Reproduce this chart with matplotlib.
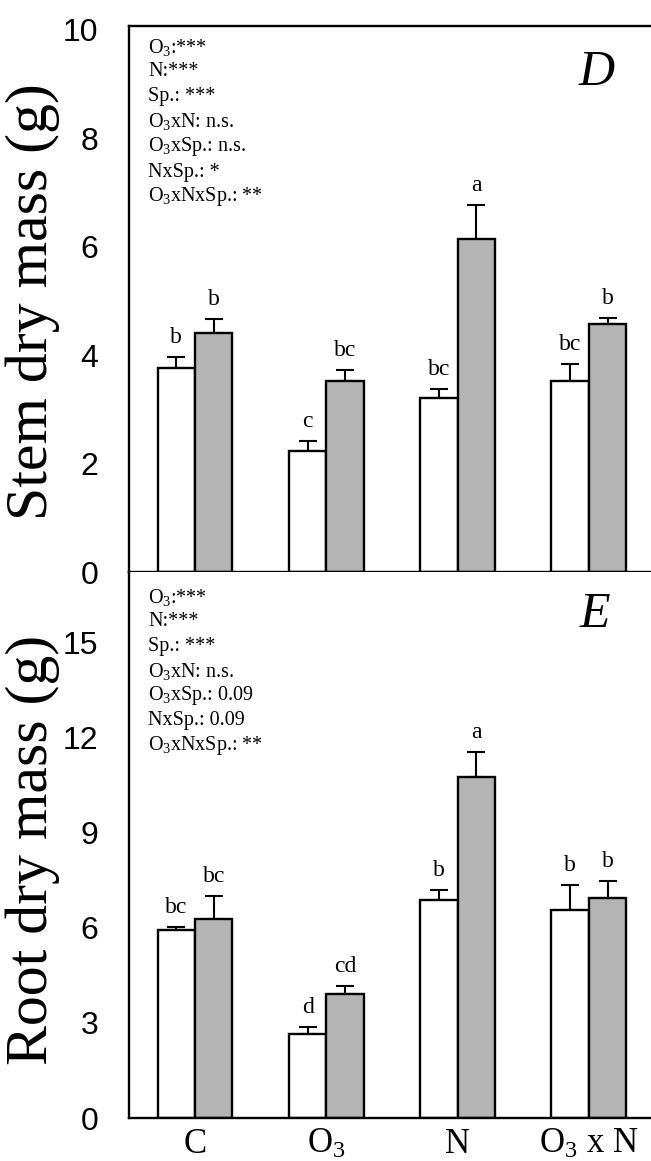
import matplotlib
matplotlib.use("Agg")
import matplotlib.pyplot as plt
import numpy as np

# ---- data ----
groups = ["C", "O$_3$", "N", "O$_3$ x N"]
stem_white = [3.76, 2.23, 3.21, 3.52]
stem_white_err = [0.20, 0.19, 0.17, 0.32]
stem_gray = [4.41, 3.52, 6.14, 4.58]
stem_gray_err = [0.26, 0.20, 0.63, 0.11]
stem_white_lbl = ["b", "c", "bc", "bc"]
stem_gray_lbl = ["b", "bc", "a", "b"]

root_white = [5.93, 2.65, 6.88, 6.56]
root_white_err = [0.10, 0.22, 0.31, 0.79]
root_gray = [6.28, 3.91, 10.76, 6.94]
root_gray_err = [0.72, 0.25, 0.79, 0.54]
root_white_lbl = ["bc", "d", "b", "b"]
root_gray_lbl = ["bc", "cd", "a", "b"]

stem_stats = ["O$_3$:***", "N:***", "Sp.: ***", "O$_3$xN: n.s.",
              "O$_3$xSp.: n.s.", "NxSp.: *", "O$_3$xNxSp.: **"]
root_stats = ["O$_3$:***", "N:***", "Sp.: ***", "O$_3$xN: n.s.",
              "O$_3$xSp.: 0.09", "NxSp.: 0.09", "O$_3$xNxSp.: **"]

stem_ticks = [0, 2, 4, 6, 8, 10]
root_ticks = [0, 3, 6, 9, 12, 15]

# ---- style ----
plt.rcParams['mathtext.fontset'] = 'custom'
plt.rcParams['mathtext.rm'] = 'Liberation Serif'
plt.rcParams['mathtext.it'] = 'Liberation Serif:italic'
plt.rcParams['mathtext.bf'] = 'Liberation Serif:bold'

SERIF = 'Liberation Serif'
SANS = 'Liberation Sans'
GRAY = '#b4b4b4'
W = 0.285

W_px, H_px = 651, 1161
fig = plt.figure(figsize=(W_px / 100, H_px / 100), dpi=100)

left = 129 / W_px
width = 1.0 - left
ax_top = fig.add_axes([left, 1 - 572 / H_px, width, 546 / H_px])
ax_bot = fig.add_axes([left, 1 - 1118 / H_px, width, 546 / H_px])

x = np.arange(len(groups))


def draw(ax, wv, we, gv, ge, wl, gl, ylim, ticks):
    ax.bar(x - W / 2, wv, W, color='white', edgecolor='black', linewidth=1.7, zorder=2)
    ax.bar(x + W / 2, gv, W, color=GRAY, edgecolor='black', linewidth=1.7, zorder=2)
    ax.errorbar(x - W / 2, wv, yerr=[np.zeros(len(wv)), we], fmt='none',
                ecolor='black', elinewidth=1.5, capsize=6.5, capthick=1.5, zorder=1)
    ax.errorbar(x + W / 2, gv, yerr=[np.zeros(len(gv)), ge], fmt='none',
                ecolor='black', elinewidth=1.5, capsize=6.5, capthick=1.5, zorder=1)
    for xi, v, e, t in zip(x - W / 2, wv, we, wl):
        ax.annotate(t, (xi, v + e), xytext=(0, 10), textcoords='offset points',
                    ha='center', va='baseline', fontsize=17, family=SERIF)
    for xi, v, e, t in zip(x + W / 2, gv, ge, gl):
        ax.annotate(t, (xi, v + e), xytext=(0, 10), textcoords='offset points',
                    ha='center', va='baseline', fontsize=17, family=SERIF)
    ax.set_xlim(-66 / 131.3, (651 - 195) / 131.3)
    ax.set_ylim(*ylim)
    ax.set_yticks(ticks)
    ax.set_yticklabels([str(t) for t in ticks], fontsize=23, family=SANS)
    ax.tick_params(axis='y', length=0, pad=22)
    ax.spines['right'].set_visible(False)
    for s in ['left', 'bottom', 'top']:
        ax.spines[s].set_linewidth(1.7)
    return ax


draw(ax_top, stem_white, stem_white_err, stem_gray, stem_gray_err,
     stem_white_lbl, stem_gray_lbl, (0, 10.07), stem_ticks)
draw(ax_bot, root_white, root_white_err, root_gray, root_gray_err,
     root_white_lbl, root_gray_lbl, (0, 17.22), root_ticks)
ax_bot.spines['top'].set_visible(False)

ax_top.set_xticks([])
ax_bot.set_xticks(x)
ax_bot.set_xticklabels(groups, fontsize=25, family=SERIF)
ax_bot.tick_params(axis='x', length=0, pad=7)

# statistics text
for i, s in enumerate(stem_stats):
    fig.text(148 / W_px, 1 - (47 + 25 * i) / H_px, s, fontsize=14.5, family=SERIF,
             ha='left', va='center')
for i, s in enumerate(root_stats):
    fig.text(148 / W_px, 1 - (597 + 24.7 * i) / H_px, s, fontsize=14.5, family=SERIF,
             ha='left', va='center')

# panel letters
fig.text(597 / W_px, 1 - 73 / H_px, 'D', fontsize=36, family=SERIF,
         style='italic', ha='center', va='center')
fig.text(595 / W_px, 1 - 615 / H_px, 'E', fontsize=36, family=SERIF,
         style='italic', ha='center', va='center')

# y labels
fig.text(33 / W_px, 1 - 302 / H_px, 'Stem dry mass (g)', fontsize=43, family=SERIF,
         rotation=90, ha='center', va='center')
fig.text(33 / W_px, 1 - 850 / H_px, 'Root dry mass (g)', fontsize=43, family=SERIF,
         rotation=90, ha='center', va='center')

fig.savefig('out.png', dpi=100)
